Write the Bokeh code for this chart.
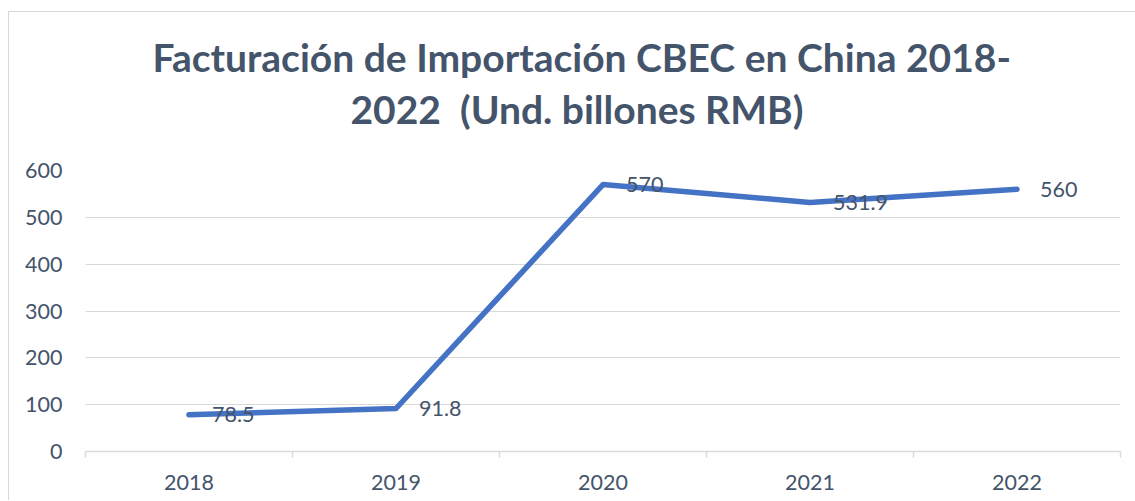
from bokeh.plotting import figure
from bokeh.models import ColumnDataSource, LabelSet, Title, Range1d, FixedTicker
from bokeh.core.properties import value
from bokeh.embed import file_html
from bokeh.resources import INLINE

years = ["2018", "2019", "2020", "2021", "2022"]
values = [78.5, 91.8, 570, 531.9, 560]
labels = ["78.5", "91.8", "570", "531.9", "560"]
y_ticks = [0, 100, 200, 300, 400, 500, 600]
title_lines = ["Facturación de Importación CBEC en China 2018-",
               "2022\u00a0 (Und. billones RMB)"]

xs = [i + 0.5 for i in range(len(years))]
src = ColumnDataSource(dict(x=xs, y=values, lab=labels))

TXT = "#44546A"
GRID = "#D9D9D9"
FONT = "Lato"
FS = "21.5px"

p = figure(width=1127, height=489, output_backend="svg", toolbar_location=None,
           x_range=Range1d(0, len(years)), y_range=Range1d(0, 600),
           min_border_left=76, min_border_right=16, min_border_top=158,
           min_border_bottom=50, title=None,
           margin=(11, 0, 0, 8),
           styles={"border-left": "1.5px solid #D9D9D9",
                   "border-top": "1.5px solid #D9D9D9"})
p.outline_line_color = None
p.background_fill_color = "white"
p.border_fill_color = "white"

# y axis
p.yaxis.ticker = FixedTicker(ticks=y_ticks)
p.yaxis.axis_line_color = None
p.yaxis.major_tick_line_color = None
p.yaxis.minor_tick_line_color = None
p.yaxis.major_label_standoff = 17
p.yaxis.major_label_text_font = FONT
p.yaxis.major_label_text_font_size = FS
p.yaxis.major_label_text_color = TXT

# x axis
p.xaxis.ticker = FixedTicker(ticks=xs, minor_ticks=list(range(len(years) + 1)))
p.xaxis.major_label_overrides = {x: y for x, y in zip(xs, years)}
p.xaxis.axis_line_color = GRID
p.xaxis.axis_line_width = 1.5
p.xaxis.major_tick_line_color = None
p.xaxis.minor_tick_line_color = GRID
p.xaxis.minor_tick_line_width = 1.5
p.xaxis.minor_tick_out = 6
p.xaxis.minor_tick_in = 0
p.xaxis.major_label_standoff = 17
p.xaxis.major_label_text_font = FONT
p.xaxis.major_label_text_font_size = FS
p.xaxis.major_label_text_color = TXT

p.xgrid.grid_line_color = None
p.ygrid.grid_line_color = GRID
p.ygrid.grid_line_width = 1.2

p.line("x", "y", source=src, line_color="#4472C4", line_width=5.5,
       line_cap="round", line_join="round")

p.add_layout(LabelSet(x="x", y="y", text="lab", source=src, x_offset=23,
                      text_baseline="middle", text_align="left",
                      text_font=value(FONT), text_font_size=FS, text_color=TXT))

# title: two stacked lines (last line nearest the frame)
for txt, so, off in zip(reversed(title_lines), [77, -69], [265, 67]):
    p.add_layout(Title(text=txt, align="left", offset=off, standoff=so,
                       text_font=FONT, text_font_size="39px",
                       text_font_style="bold", text_color=TXT), "above")

open("out.html", "w").write(file_html(p, INLINE))
